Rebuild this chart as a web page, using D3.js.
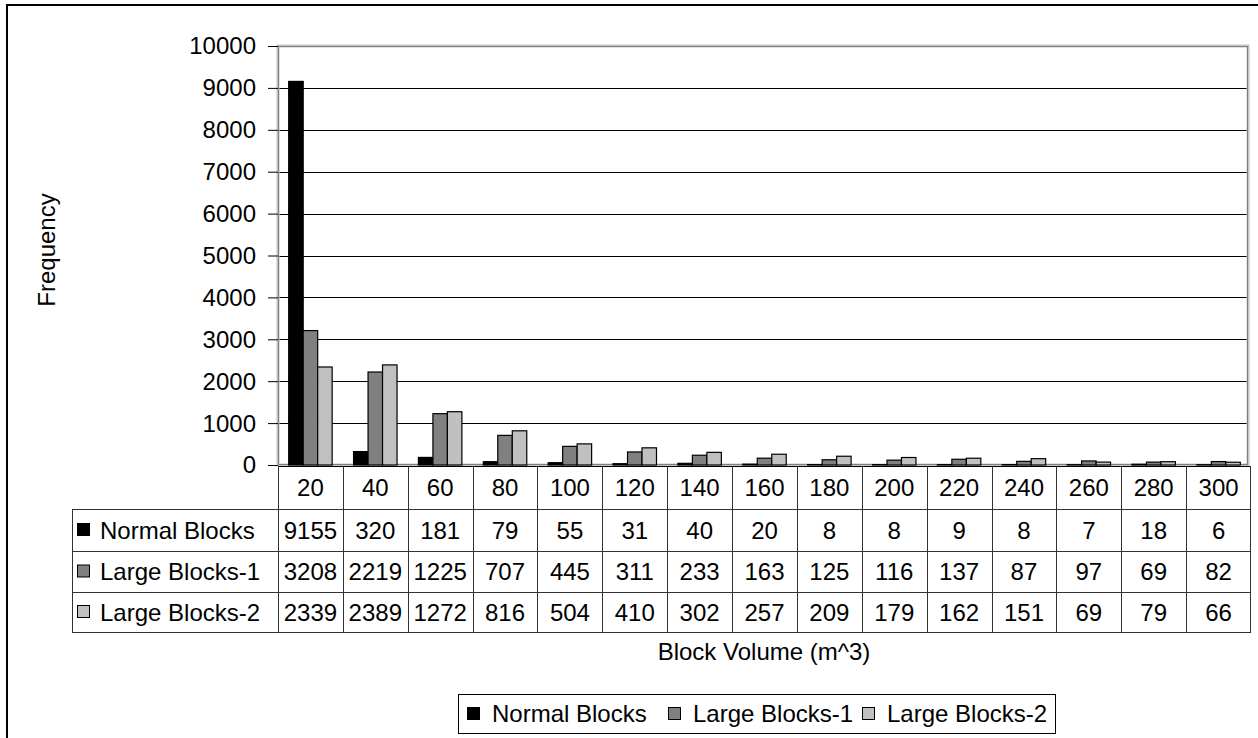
<!DOCTYPE html>
<html>
<head>
<meta charset="utf-8">
<script src="https://cdn.jsdelivr.net/npm/d3@7"></script>
<style>
  html, body { margin: 0; padding: 0; background: #fff; }
  svg { display: block; }
  text { font-family: "Liberation Sans", Arial, sans-serif; fill: #000; }
</style>
</head>
<body>
<svg id="chart" width="1258" height="738"></svg>
<script>
// Block volume classes (m^3)
const categories = ["20", "40", "60", "80", "100", "120", "140", "160", "180", "200", "220", "240", "260", "280", "300"];
const seriesNames = ["Normal Blocks", "Large Blocks-1", "Large Blocks-2"];
const normalBlocks = [9155, 320, 181, 79, 55, 31, 40, 20, 8, 8, 9, 8, 7, 18, 6];
const largeBlocks1 = [3208, 2219, 1225, 707, 445, 311, 233, 163, 125, 116, 137, 87, 97, 69, 82];
const largeBlocks2 = [2339, 2389, 1272, 816, 504, 410, 302, 257, 209, 179, 162, 151, 69, 79, 66];
const seriesColors = ["#000000", "#808080", "#c0c0c0"];
const yTicks = [0, 1000, 2000, 3000, 4000, 5000, 6000, 7000, 8000, 9000, 10000];

const seriesValues = [normalBlocks, largeBlocks1, largeBlocks2];
const FONT = "24px";

const svg = d3.select("#chart");

// Outer chart frame
svg.append("rect")
  .attr("x", 7).attr("y", 5).attr("width", 1262).attr("height", 745)
  .attr("fill", "none").attr("stroke", "#000").attr("stroke-width", 2);

const plot = { left: 278, right: 1248, top: 46, bottom: 465 };
const tableRight = 1251;

const x = d3.scaleBand().domain(categories).range([plot.left, tableRight]).paddingInner(0).paddingOuter(0);
const y = d3.scaleLinear().domain([0, 10000]).range([plot.bottom, plot.top]);
const groupW = x.bandwidth() * 0.67;
const xs = d3.scaleBand().domain(d3.range(seriesNames.length)).range([0, groupW]).padding(0);

// Horizontal gridlines
svg.append("g")
  .selectAll("line")
  .data(yTicks.filter(t => t > 0 && t < 10000))
  .join("line")
  .attr("x1", plot.left).attr("x2", plot.right)
  .attr("y1", d => Math.round(y(d)) + 0.5).attr("y2", d => Math.round(y(d)) + 0.5)
  .attr("stroke", "#000").attr("stroke-width", 1);

// Plot area border
svg.append("rect")
  .attr("x", plot.left).attr("y", plot.top)
  .attr("width", plot.right - plot.left).attr("height", plot.bottom - plot.top)
  .attr("fill", "none").attr("stroke", "#c4c4c4").attr("stroke-width", 3);
svg.append("rect")
  .attr("x", plot.left + 0.5).attr("y", plot.top + 0.5)
  .attr("width", plot.right - plot.left - 1).attr("height", plot.bottom - plot.top - 1)
  .attr("fill", "none").attr("stroke", "#808080").attr("stroke-width", 1);

// Y axis
const yAxis = d3.axisLeft(y).tickValues(yTicks).tickSize(10).tickPadding(12).tickFormat(d3.format("d"));
const yg = svg.append("g").attr("transform", `translate(${plot.left},0)`).call(yAxis);
yg.select(".domain").remove();
yg.selectAll(".tick line").attr("stroke", "#000");
yg.selectAll(".tick text")
  .attr("dy", "0.33em")
  .style("font-family", "'Liberation Sans', Arial, sans-serif")
  .style("font-size", FONT).attr("fill", "#000");

// Bars
const groupOffset = (x.bandwidth() - groupW) / 2;
seriesValues.forEach((vals, si) => {
  svg.append("g")
    .selectAll("rect")
    .data(vals)
    .join("rect")
    .attr("x", (d, i) => x(categories[i]) + groupOffset + xs(si))
    .attr("y", d => y(d))
    .attr("width", xs.bandwidth())
    .attr("height", d => plot.bottom - y(d))
    .attr("fill", seriesColors[si])
    .attr("stroke", "#000").attr("stroke-width", 1.2);
});

// Data table
const rowY = [466, 509, 551, 592, 632];
const tableLeft = 72;
const tg = svg.append("g");

// horizontal rules
tg.append("line").attr("x1", plot.left).attr("x2", tableRight).attr("y1", rowY[0] + 0.5).attr("y2", rowY[0] + 0.5).attr("stroke", "#000");
rowY.slice(1).forEach(ry => {
  tg.append("line").attr("x1", tableLeft).attr("x2", tableRight).attr("y1", ry + 0.5).attr("y2", ry + 0.5).attr("stroke", "#333");
});
// vertical rules
tg.append("line").attr("x1", tableLeft + 0.5).attr("x2", tableLeft + 0.5).attr("y1", rowY[1]).attr("y2", rowY[4]).attr("stroke", "#333");
categories.forEach(c => {
  const xx = Math.round(x(c)) + 0.5;
  tg.append("line").attr("x1", xx).attr("x2", xx).attr("y1", rowY[0]).attr("y2", rowY[4]).attr("stroke", "#333");
});
tg.append("line").attr("x1", tableRight - 0.5).attr("x2", tableRight - 0.5).attr("y1", rowY[0]).attr("y2", rowY[4]).attr("stroke", "#333");

// category header
tg.selectAll("text.cat")
  .data(categories)
  .join("text")
  .attr("class", "cat")
  .attr("x", d => x(d) + x.bandwidth() / 2)
  .attr("y", (rowY[0] + rowY[1]) / 2 + 8.5)
  .attr("text-anchor", "middle").style("font-size", FONT)
  .text(d => d);

// series rows
seriesValues.forEach((vals, si) => {
  const cy = (rowY[si + 1] + rowY[si + 2]) / 2;
  tg.append("rect")
    .attr("x", 77.5).attr("y", cy - 6.5).attr("width", 12).attr("height", 12)
    .attr("fill", seriesColors[si]).attr("stroke", "#000").attr("stroke-width", 1);
  tg.append("text")
    .attr("x", 100).attr("y", cy + 8.5)
    .style("font-size", FONT)
    .text(seriesNames[si]);
  tg.selectAll(null)
    .data(vals)
    .join("text")
    .attr("x", (d, i) => x(categories[i]) + x.bandwidth() / 2)
    .attr("y", cy + 8.5)
    .attr("text-anchor", "middle").style("font-size", FONT)
    .text(d => d);
});

// Axis titles
svg.append("text")
  .attr("x", 764).attr("y", 660)
  .attr("text-anchor", "middle").style("font-size", FONT)
  .text("Block Volume (m^3)");

svg.append("text")
  .attr("transform", "translate(55,250) rotate(-90)")
  .attr("text-anchor", "middle").style("font-size", FONT)
  .text("Frequency");

// Legend
const lg = svg.append("g");
lg.append("rect")
  .attr("x", 458.5).attr("y", 694.5).attr("width", 597).attr("height", 39)
  .attr("fill", "#fff").attr("stroke", "#000").attr("stroke-width", 1);
const legendX = [467, 668, 862];
seriesNames.forEach((name, si) => {
  lg.append("rect")
    .attr("x", legendX[si] + 0.5).attr("y", 707.5).attr("width", 12).attr("height", 12)
    .attr("fill", seriesColors[si]).attr("stroke", "#000").attr("stroke-width", 1);
  lg.append("text")
    .attr("x", legendX[si] + 25).attr("y", 722)
    .style("font-size", FONT)
    .text(name);
});
</script>
</body>
</html>
